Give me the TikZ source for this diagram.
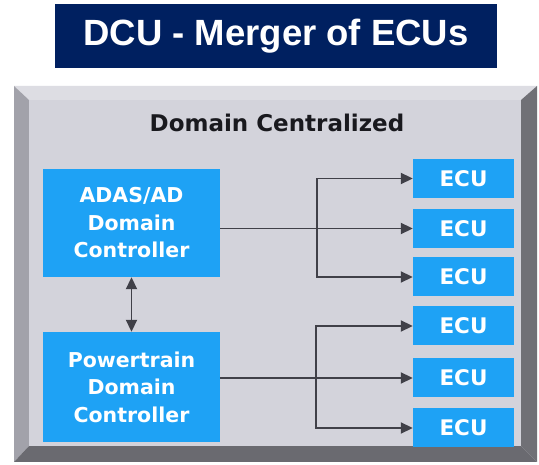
\documentclass[tikz,border=0pt]{standalone}
\usepackage{fontspec}
\setmainfont{Liberation Sans}
\newfontfamily\boxfont{DejaVu Sans}
\usetikzlibrary{arrows.meta,calc}
\definecolor{navy}{RGB}{0,32,96}
\definecolor{ctrlblue}{RGB}{30,162,245}
\definecolor{face}{RGB}{211,211,219}
\definecolor{bevtop}{RGB}{221,221,227}
\definecolor{bevleft}{RGB}{162,162,170}
\definecolor{bevright}{RGB}{112,112,118}
\definecolor{bevbottom}{RGB}{106,106,112}
\definecolor{wire}{RGB}{64,64,72}
\definecolor{headtext}{RGB}{25,25,30}

\begin{document}
\begin{tikzpicture}[x=1pt,y=-1pt,
  boxtext/.style={text=white, font=\boxfont\bfseries\fontsize{20.5}{27.5}\selectfont},
  ctrl/.style={boxtext, fill=ctrlblue, minimum width=177pt, align=center, inner sep=0pt},
  ecu/.style={boxtext, fill=ctrlblue, minimum width=101pt, minimum height=39pt, inner sep=0pt,
              font=\boxfont\bfseries\fontsize{21.5}{24}\selectfont},
  wireline/.style={draw=wire, line width=1.9pt},
  arr/.style={wireline, -{Triangle[length=12pt,width=11pt]}},
  dblarr/.style={wireline, {Triangle[length=12pt,width=11pt]}-{Triangle[length=12pt,width=11pt]}}]

\useasboundingbox (0,0) rectangle (539,465);
\fill[white] (0,0) rectangle (539,465);

% title banner
\node[fill=navy, minimum width=442pt, minimum height=64pt, inner sep=0pt,
      text=white, font=\bfseries\fontsize{36.5}{40}\selectfont] (title) at (276,36)
      {DCU - Merger of ECUs};

% bevelled panel
\fill[bevtop]    (14,86) -- (537,86) -- (521,100) -- (29,100) -- cycle;
\fill[bevleft]   (14,86) -- (29,100) -- (29,446) -- (14,462) -- cycle;
\fill[bevright]  (537,86) -- (537,462) -- (521,446) -- (521,100) -- cycle;
\fill[bevbottom] (14,462) -- (537,462) -- (521,446) -- (29,446) -- cycle;
\fill[face] (29,100) rectangle (521,446);

\node[text=headtext, font=\boxfont\bfseries\fontsize{23}{23}\selectfont] (head) at (277,123)
      {Domain Centralized};

% domain controllers
\node[ctrl, minimum height=108pt] (adas) at (131.5,223) {ADAS/AD\\Domain\\Controller};
\node[ctrl, minimum height=110pt] (pt) at (131.5,387) {Powertrain\\Domain\\Controller};

% ECUs
\node[ecu] (e1) at (463.5,178.5) {ECU};
\node[ecu] (e2) at (463.5,228.5) {ECU};
\node[ecu] (e3) at (463.5,277) {ECU};
\node[ecu] (e4) at (463.5,326) {ECU};
\node[ecu] (e5) at (463.5,378) {ECU};
\node[ecu] (e6) at (463.5,428) {ECU};

% link between the controllers
\draw[dblarr] (adas.south) -- (pt.north);

% ADAS/AD fan-out
\path (e2.west) ++(-96,0) coordinate (ta);
\draw[arr] (e2.west -| adas.east) -- (e2.west);
\draw[arr] (ta) |- (e1.west);
\draw[arr] (ta) |- (e3.west);

% Powertrain fan-out
\path (e5.west) ++(-97,0) coordinate (tp);
\draw[arr] (e5.west -| pt.east) -- (e5.west);
\draw[arr] (tp) |- (e4.west);
\draw[arr] (tp) |- (e6.west);
\end{tikzpicture}
\end{document}
